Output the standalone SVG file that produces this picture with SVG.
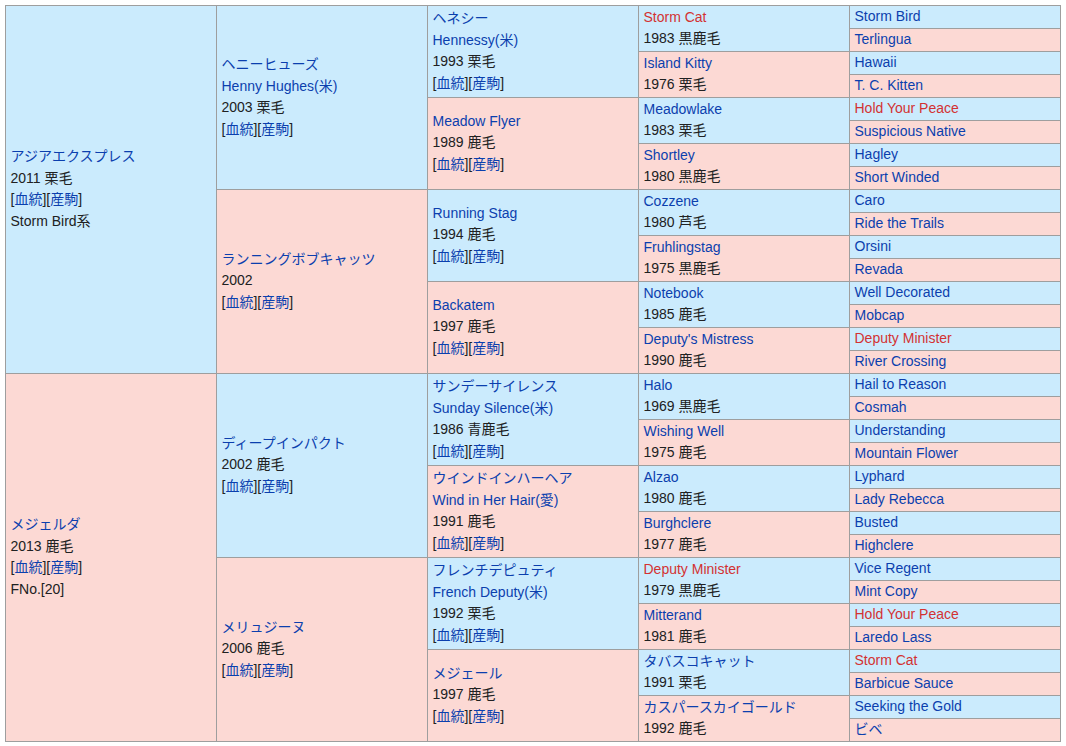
<svg xmlns="http://www.w3.org/2000/svg" width="1066" height="746" viewBox="0 0 1066 746">
<style>
text{font-family:"Liberation Sans","Noto Sans CJK JP",sans-serif;font-size:14px;fill:#202122}
.b{fill:#cbebfd;stroke:#9e9e9e;stroke-width:1}
.p{fill:#fcd9d4;stroke:#9e9e9e;stroke-width:1}
.l{fill:#0b3fae}
.r{fill:#d33232}
</style>
<rect x="0" y="0" width="1066" height="746" fill="#ffffff"/>
<g id="grid-connectors"></g>
<!-- Column 0 -->
<g id="n-asia-express"><rect class="b" x="5.5" y="5.5" width="211" height="368"/>
<text x="10.5" y="161" class="l">アジアエクスプレス</text>
<text x="10.5" y="182.5">2011 栗毛</text>
<text x="10.5" y="204">[<tspan class="l">血統</tspan>][<tspan class="l">産駒</tspan>]</text>
<text x="10.5" y="225.5">Storm Bird系</text></g>
<g id="n-mejerda"><rect class="p" x="5.5" y="373.5" width="211" height="368"/>
<text x="10.5" y="529" class="l">メジェルダ</text>
<text x="10.5" y="550.5">2013 鹿毛</text>
<text x="10.5" y="572">[<tspan class="l">血統</tspan>][<tspan class="l">産駒</tspan>]</text>
<text x="10.5" y="593.5">FNo.[20]</text></g>
<!-- Column 1 -->
<g id="n-henny-hughes"><rect class="b" x="216.5" y="5.5" width="211" height="184"/>
<text x="221.5" y="69" class="l">ヘニーヒューズ</text>
<text x="221.5" y="90.5" class="l">Henny Hughes(米)</text>
<text x="221.5" y="112">2003 栗毛</text>
<text x="221.5" y="133.5">[<tspan class="l">血統</tspan>][<tspan class="l">産駒</tspan>]</text></g>
<g id="n-running-bobcats"><rect class="p" x="216.5" y="189.5" width="211" height="184"/>
<text x="221.5" y="263.75" class="l">ランニングボブキャッツ</text>
<text x="221.5" y="285.25">2002</text>
<text x="221.5" y="306.75">[<tspan class="l">血統</tspan>][<tspan class="l">産駒</tspan>]</text></g>
<g id="n-deep-impact"><rect class="b" x="216.5" y="373.5" width="211" height="184"/>
<text x="221.5" y="447.75" class="l">ディープインパクト</text>
<text x="221.5" y="469.25">2002 鹿毛</text>
<text x="221.5" y="490.75">[<tspan class="l">血統</tspan>][<tspan class="l">産駒</tspan>]</text></g>
<g id="n-melusine"><rect class="p" x="216.5" y="557.5" width="211" height="184"/>
<text x="221.5" y="631.75" class="l">メリュジーヌ</text>
<text x="221.5" y="653.25">2006 鹿毛</text>
<text x="221.5" y="674.75">[<tspan class="l">血統</tspan>][<tspan class="l">産駒</tspan>]</text></g>
<!-- Column 2 -->
<g id="n-hennessy"><rect class="b" x="427.5" y="5.5" width="211" height="92"/>
<text x="432.5" y="23" class="l">ヘネシー</text>
<text x="432.5" y="44.5" class="l">Hennessy(米)</text>
<text x="432.5" y="66">1993 栗毛</text>
<text x="432.5" y="87.5">[<tspan class="l">血統</tspan>][<tspan class="l">産駒</tspan>]</text></g>
<g id="n-meadow-flyer"><rect class="p" x="427.5" y="97.5" width="211" height="92"/>
<text x="432.5" y="125.75" class="l">Meadow Flyer</text>
<text x="432.5" y="147.25">1989 鹿毛</text>
<text x="432.5" y="168.75">[<tspan class="l">血統</tspan>][<tspan class="l">産駒</tspan>]</text></g>
<g id="n-running-stag"><rect class="b" x="427.5" y="189.5" width="211" height="92"/>
<text x="432.5" y="217.75" class="l">Running Stag</text>
<text x="432.5" y="239.25">1994 鹿毛</text>
<text x="432.5" y="260.75">[<tspan class="l">血統</tspan>][<tspan class="l">産駒</tspan>]</text></g>
<g id="n-backatem"><rect class="p" x="427.5" y="281.5" width="211" height="92"/>
<text x="432.5" y="309.75" class="l">Backatem</text>
<text x="432.5" y="331.25">1997 鹿毛</text>
<text x="432.5" y="352.75">[<tspan class="l">血統</tspan>][<tspan class="l">産駒</tspan>]</text></g>
<g id="n-sunday-silence"><rect class="b" x="427.5" y="373.5" width="211" height="92"/>
<text x="432.5" y="391" class="l">サンデーサイレンス</text>
<text x="432.5" y="412.5" class="l">Sunday Silence(米)</text>
<text x="432.5" y="434">1986 青鹿毛</text>
<text x="432.5" y="455.5">[<tspan class="l">血統</tspan>][<tspan class="l">産駒</tspan>]</text></g>
<g id="n-wind-in-her-hair"><rect class="p" x="427.5" y="465.5" width="211" height="92"/>
<text x="432.5" y="483" class="l">ウインドインハーヘア</text>
<text x="432.5" y="504.5" class="l">Wind in Her Hair(愛)</text>
<text x="432.5" y="526">1991 鹿毛</text>
<text x="432.5" y="547.5">[<tspan class="l">血統</tspan>][<tspan class="l">産駒</tspan>]</text></g>
<g id="n-french-deputy"><rect class="b" x="427.5" y="557.5" width="211" height="92"/>
<text x="432.5" y="575" class="l">フレンチデピュティ</text>
<text x="432.5" y="596.5" class="l">French Deputy(米)</text>
<text x="432.5" y="618">1992 栗毛</text>
<text x="432.5" y="639.5">[<tspan class="l">血統</tspan>][<tspan class="l">産駒</tspan>]</text></g>
<g id="n-mejere"><rect class="p" x="427.5" y="649.5" width="211" height="92"/>
<text x="432.5" y="677.75" class="l">メジェール</text>
<text x="432.5" y="699.25">1997 鹿毛</text>
<text x="432.5" y="720.75">[<tspan class="l">血統</tspan>][<tspan class="l">産駒</tspan>]</text></g>
<!-- Column 3 -->
<g id="n-storm-cat"><rect class="b" x="638.5" y="5.5" width="211" height="46"/>
<text x="643.5" y="21.5" class="r">Storm Cat</text><text x="643.5" y="43">1983 黒鹿毛</text></g>
<g id="n-island-kitty"><rect class="p" x="638.5" y="51.5" width="211" height="46"/>
<text x="643.5" y="67.5" class="l">Island Kitty</text><text x="643.5" y="89">1976 栗毛</text></g>
<g id="n-meadowlake"><rect class="b" x="638.5" y="97.5" width="211" height="46"/>
<text x="643.5" y="113.5" class="l">Meadowlake</text><text x="643.5" y="135">1983 栗毛</text></g>
<g id="n-shortley"><rect class="p" x="638.5" y="143.5" width="211" height="46"/>
<text x="643.5" y="159.5" class="l">Shortley</text><text x="643.5" y="181">1980 黒鹿毛</text></g>
<g id="n-cozzene"><rect class="b" x="638.5" y="189.5" width="211" height="46"/>
<text x="643.5" y="205.5" class="l">Cozzene</text><text x="643.5" y="227">1980 芦毛</text></g>
<g id="n-fruhlingstag"><rect class="p" x="638.5" y="235.5" width="211" height="46"/>
<text x="643.5" y="251.5" class="l">Fruhlingstag</text><text x="643.5" y="273">1975 黒鹿毛</text></g>
<g id="n-notebook"><rect class="b" x="638.5" y="281.5" width="211" height="46"/>
<text x="643.5" y="297.5" class="l">Notebook</text><text x="643.5" y="319">1985 鹿毛</text></g>
<g id="n-deputys-mistress"><rect class="p" x="638.5" y="327.5" width="211" height="46"/>
<text x="643.5" y="343.5" class="l">Deputy's Mistress</text><text x="643.5" y="365">1990 鹿毛</text></g>
<g id="n-halo"><rect class="b" x="638.5" y="373.5" width="211" height="46"/>
<text x="643.5" y="389.5" class="l">Halo</text><text x="643.5" y="411">1969 黒鹿毛</text></g>
<g id="n-wishing-well"><rect class="p" x="638.5" y="419.5" width="211" height="46"/>
<text x="643.5" y="435.5" class="l">Wishing Well</text><text x="643.5" y="457">1975 鹿毛</text></g>
<g id="n-alzao"><rect class="b" x="638.5" y="465.5" width="211" height="46"/>
<text x="643.5" y="481.5" class="l">Alzao</text><text x="643.5" y="503">1980 鹿毛</text></g>
<g id="n-burghclere"><rect class="p" x="638.5" y="511.5" width="211" height="46"/>
<text x="643.5" y="527.5" class="l">Burghclere</text><text x="643.5" y="549">1977 鹿毛</text></g>
<g id="n-deputy-minister"><rect class="b" x="638.5" y="557.5" width="211" height="46"/>
<text x="643.5" y="573.5" class="r">Deputy Minister</text><text x="643.5" y="595">1979 黒鹿毛</text></g>
<g id="n-mitterand"><rect class="p" x="638.5" y="603.5" width="211" height="46"/>
<text x="643.5" y="619.5" class="l">Mitterand</text><text x="643.5" y="641">1981 鹿毛</text></g>
<g id="n-tabasco-cat"><rect class="b" x="638.5" y="649.5" width="211" height="46"/>
<text x="643.5" y="665.5" class="l">タバスコキャット</text><text x="643.5" y="687">1991 栗毛</text></g>
<g id="n-casper-sky-gold"><rect class="p" x="638.5" y="695.5" width="211" height="46"/>
<text x="643.5" y="711.5" class="l">カスパースカイゴールド</text><text x="643.5" y="733">1992 鹿毛</text></g>
<!-- Column 4 -->
<g id="n-storm-bird"><rect class="b" x="849.5" y="5.5" width="211" height="23"/><text x="854.5" y="20.75" class="l">Storm Bird</text></g>
<g id="n-terlingua"><rect class="p" x="849.5" y="28.5" width="211" height="23"/><text x="854.5" y="43.75" class="l">Terlingua</text></g>
<g id="n-hawaii"><rect class="b" x="849.5" y="51.5" width="211" height="23"/><text x="854.5" y="66.75" class="l">Hawaii</text></g>
<g id="n-tc-kitten"><rect class="p" x="849.5" y="74.5" width="211" height="23"/><text x="854.5" y="89.75" class="l">T. C. Kitten</text></g>
<g id="n-hold-your-peace-1"><rect class="b" x="849.5" y="97.5" width="211" height="23"/><text x="854.5" y="112.75" class="r">Hold Your Peace</text></g>
<g id="n-suspicious-native"><rect class="p" x="849.5" y="120.5" width="211" height="23"/><text x="854.5" y="135.75" class="l">Suspicious Native</text></g>
<g id="n-hagley"><rect class="b" x="849.5" y="143.5" width="211" height="23"/><text x="854.5" y="158.75" class="l">Hagley</text></g>
<g id="n-short-winded"><rect class="p" x="849.5" y="166.5" width="211" height="23"/><text x="854.5" y="181.75" class="l">Short Winded</text></g>
<g id="n-caro"><rect class="b" x="849.5" y="189.5" width="211" height="23"/><text x="854.5" y="204.75" class="l">Caro</text></g>
<g id="n-ride-the-trails"><rect class="p" x="849.5" y="212.5" width="211" height="23"/><text x="854.5" y="227.75" class="l">Ride the Trails</text></g>
<g id="n-orsini"><rect class="b" x="849.5" y="235.5" width="211" height="23"/><text x="854.5" y="250.75" class="l">Orsini</text></g>
<g id="n-revada"><rect class="p" x="849.5" y="258.5" width="211" height="23"/><text x="854.5" y="273.75" class="l">Revada</text></g>
<g id="n-well-decorated"><rect class="b" x="849.5" y="281.5" width="211" height="23"/><text x="854.5" y="296.75" class="l">Well Decorated</text></g>
<g id="n-mobcap"><rect class="p" x="849.5" y="304.5" width="211" height="23"/><text x="854.5" y="319.75" class="l">Mobcap</text></g>
<g id="n-deputy-minister-2"><rect class="b" x="849.5" y="327.5" width="211" height="23"/><text x="854.5" y="342.75" class="r">Deputy Minister</text></g>
<g id="n-river-crossing"><rect class="p" x="849.5" y="350.5" width="211" height="23"/><text x="854.5" y="365.75" class="l">River Crossing</text></g>
<g id="n-hail-to-reason"><rect class="b" x="849.5" y="373.5" width="211" height="23"/><text x="854.5" y="388.75" class="l">Hail to Reason</text></g>
<g id="n-cosmah"><rect class="p" x="849.5" y="396.5" width="211" height="23"/><text x="854.5" y="411.75" class="l">Cosmah</text></g>
<g id="n-understanding"><rect class="b" x="849.5" y="419.5" width="211" height="23"/><text x="854.5" y="434.75" class="l">Understanding</text></g>
<g id="n-mountain-flower"><rect class="p" x="849.5" y="442.5" width="211" height="23"/><text x="854.5" y="457.75" class="l">Mountain Flower</text></g>
<g id="n-lyphard"><rect class="b" x="849.5" y="465.5" width="211" height="23"/><text x="854.5" y="480.75" class="l">Lyphard</text></g>
<g id="n-lady-rebecca"><rect class="p" x="849.5" y="488.5" width="211" height="23"/><text x="854.5" y="503.75" class="l">Lady Rebecca</text></g>
<g id="n-busted"><rect class="b" x="849.5" y="511.5" width="211" height="23"/><text x="854.5" y="526.75" class="l">Busted</text></g>
<g id="n-highclere"><rect class="p" x="849.5" y="534.5" width="211" height="23"/><text x="854.5" y="549.75" class="l">Highclere</text></g>
<g id="n-vice-regent"><rect class="b" x="849.5" y="557.5" width="211" height="23"/><text x="854.5" y="572.75" class="l">Vice Regent</text></g>
<g id="n-mint-copy"><rect class="p" x="849.5" y="580.5" width="211" height="23"/><text x="854.5" y="595.75" class="l">Mint Copy</text></g>
<g id="n-hold-your-peace-2"><rect class="b" x="849.5" y="603.5" width="211" height="23"/><text x="854.5" y="618.75" class="r">Hold Your Peace</text></g>
<g id="n-laredo-lass"><rect class="p" x="849.5" y="626.5" width="211" height="23"/><text x="854.5" y="641.75" class="l">Laredo Lass</text></g>
<g id="n-storm-cat-2"><rect class="b" x="849.5" y="649.5" width="211" height="23"/><text x="854.5" y="664.75" class="r">Storm Cat</text></g>
<g id="n-barbicue-sauce"><rect class="p" x="849.5" y="672.5" width="211" height="23"/><text x="854.5" y="687.75" class="l">Barbicue Sauce</text></g>
<g id="n-seeking-the-gold"><rect class="b" x="849.5" y="695.5" width="211" height="23"/><text x="854.5" y="710.75" class="l">Seeking the Gold</text></g>
<g id="n-bibe"><rect class="p" x="849.5" y="718.5" width="211" height="23"/><text x="854.5" y="733.75" class="l">ビベ</text></g>
</svg>
